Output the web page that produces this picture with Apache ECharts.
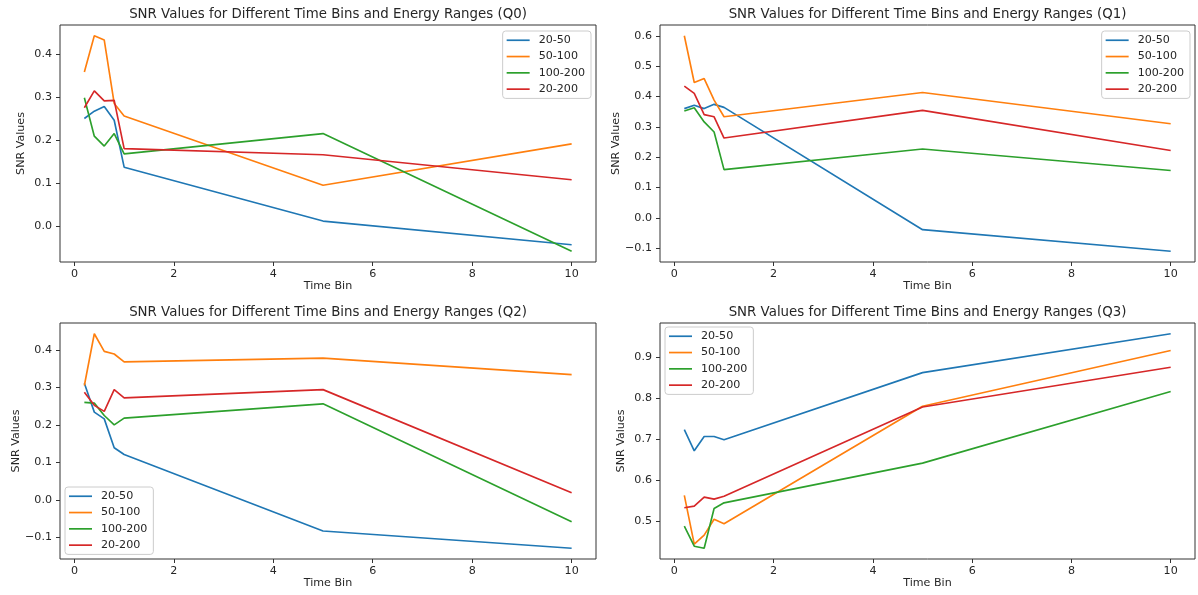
<!DOCTYPE html>
<html>
<head>
<meta charset="utf-8">
<script src="https://cdn.jsdelivr.net/npm/echarts@6/dist/echarts.min.js"></script>
<style>
  html, body { margin: 0; padding: 0; background: #fff; }
  #chart { width: 1198px; height: 595px; }
</style>
</head>
<body>
<div id="chart"></div>
<script>
// Time bins shared by every panel
const timeBins = [0.2, 0.4, 0.6, 0.8, 1.0, 5, 10];
const energyRanges = ['20-50', '50-100', '100-200', '20-200'];
const panelNames = ['Q0', 'Q1', 'Q2', 'Q3'];

// SNR per energy range, one array per panel
const q0_20_50   = [0.250, 0.267, 0.278, 0.246, 0.137, 0.012, -0.043];
const q0_50_100  = [0.358, 0.442, 0.432, 0.285, 0.256, 0.095, 0.191];
const q0_100_200 = [0.298, 0.209, 0.186, 0.215, 0.168, 0.215, -0.058];
const q0_20_200  = [0.275, 0.314, 0.291, 0.292, 0.180, 0.166, 0.108];

const q1_20_50   = [0.360, 0.371, 0.360, 0.374, 0.364, -0.039, -0.110];
const q1_50_100  = [0.600, 0.446, 0.459, 0.388, 0.333, 0.413, 0.310];
const q1_100_200 = [0.352, 0.363, 0.316, 0.283, 0.159, 0.227, 0.156];
const q1_20_200  = [0.434, 0.410, 0.340, 0.333, 0.263, 0.354, 0.222];

const q2_20_50   = [0.311, 0.234, 0.216, 0.139, 0.121, -0.083, -0.129];
const q2_50_100  = [0.305, 0.443, 0.396, 0.389, 0.368, 0.378, 0.334];
const q2_100_200 = [0.260, 0.258, 0.225, 0.200, 0.218, 0.256, -0.058];
const q2_20_200  = [0.287, 0.252, 0.236, 0.294, 0.272, 0.294, 0.019];

const q3_20_50   = [0.724, 0.672, 0.707, 0.707, 0.699, 0.863, 0.958];
const q3_50_100  = [0.563, 0.444, 0.466, 0.505, 0.494, 0.781, 0.917];
const q3_100_200 = [0.488, 0.439, 0.434, 0.531, 0.545, 0.642, 0.817];
const q3_20_200  = [0.533, 0.537, 0.559, 0.554, 0.561, 0.779, 0.876];

// Tick labels
const xTicks = [0, 2, 4, 6, 8, 10];
const q0Ticks = [0.0, 0.1, 0.2, 0.3, 0.4];
const q1Ticks = [-0.1, 0.0, 0.1, 0.2, 0.3, 0.4, 0.5, 0.6];
const q2Ticks = [-0.1, 0.0, 0.1, 0.2, 0.3, 0.4];
const q3Ticks = [0.5, 0.6, 0.7, 0.8, 0.9];

const panelSeries = [
  [q0_20_50, q0_50_100, q0_100_200, q0_20_200],
  [q1_20_50, q1_50_100, q1_100_200, q1_20_200],
  [q2_20_50, q2_50_100, q2_100_200, q2_20_200],
  [q3_20_50, q3_50_100, q3_100_200, q3_20_200]
];
const panelTicks = [q0Ticks, q1Ticks, q2Ticks, q3Ticks];

const colors = ['#1f77b4', '#ff7f0e', '#2ca02c', '#d62728'];
const FONT = 'DejaVu Sans';
const TEXT = '#262626';
const LABEL_SIZE = 11.1;
const TITLE_SIZE = 13.35;

const grids = [
  { left: 60,  top: 25,  width: 536, height: 237 },
  { left: 660, top: 25,  width: 535, height: 237 },
  { left: 60,  top: 323, width: 536, height: 236 },
  { left: 660, top: 323, width: 535, height: 236 }
];

// Legend placement per panel
const legendPos = [
  { right: 607, top: 31 },
  { right: 8,   top: 31 },
  { left: 65,   top: 487 },
  { left: 665,  top: 327 }
];

// 5% padding on both ends, like the usual autoscale
const padMin = e => e.min - 0.05 * (e.max - e.min);
const padMax = e => e.max + 0.05 * (e.max - e.min);

const fmtY = v => (v < -1e-9 ? '\u2212' : '') + Math.abs(v).toFixed(1);

const option = {
  animation: false,
  color: colors,
  textStyle: { fontFamily: FONT },
  title: grids.map((g, i) => ({
    text: 'SNR Values for Different Time Bins and Energy Ranges (' + panelNames[i] + ')',
    left: g.left + g.width / 2,
    top: g.top - 17,
    textAlign: 'center',
    padding: 0,
    textStyle: { fontFamily: FONT, fontSize: TITLE_SIZE, fontWeight: 'normal', color: TEXT }
  })),
  legend: grids.map((g, i) => Object.assign({
    data: energyRanges,
    orient: 'vertical',
    icon: 'rect',
    itemWidth: 23,
    itemHeight: 1.7,
    itemGap: 3.8,
    padding: [3, 6, 3, 4],
    backgroundColor: 'rgba(255,255,255,0.8)',
    borderColor: '#cccccc',
    borderWidth: 1,
    borderRadius: 3,
    selectedMode: false,
    textStyle: { fontFamily: FONT, fontSize: LABEL_SIZE, color: TEXT, lineHeight: 12.5, padding: [0, 0, 0, 4] }
  }, legendPos[i])),
  grid: grids.map(g => Object.assign({
    show: true,
    borderColor: '#333',
    borderWidth: 1,
    containLabel: false
  }, g)),
  xAxis: grids.map((g, i) => ({
    type: 'value',
    gridIndex: i,
    min: padMin,
    max: padMax,
    name: 'Time Bin',
    nameLocation: 'middle',
    nameGap: 19,
    nameTextStyle: { fontFamily: FONT, fontSize: LABEL_SIZE, color: TEXT },
    axisLine: { show: false, onZero: false },
    axisTick: { show: true, length: 4, lineStyle: { color: '#333' }, customValues: xTicks },
    axisLabel: { fontFamily: FONT, fontSize: LABEL_SIZE, color: TEXT, margin: 7, customValues: xTicks,
                 formatter: v => String(v) },
    splitLine: { show: false }
  })),
  yAxis: grids.map((g, i) => ({
    type: 'value',
    gridIndex: i,
    min: padMin,
    max: padMax,
    name: 'SNR Values',
    nameLocation: 'middle',
    nameGap: 33,
    nameTextStyle: { fontFamily: FONT, fontSize: LABEL_SIZE, color: TEXT },
    axisLine: { show: false, onZero: false },
    axisTick: { show: true, length: 4, lineStyle: { color: '#333' }, customValues: panelTicks[i] },
    axisLabel: { fontFamily: FONT, fontSize: LABEL_SIZE, color: TEXT, margin: 8, customValues: panelTicks[i],
                 formatter: fmtY },
    splitLine: { show: false }
  })),
  series: []
};

panelSeries.forEach((group, p) => {
  group.forEach((vals, k) => {
    option.series.push({
      type: 'line',
      name: energyRanges[k],
      xAxisIndex: p,
      yAxisIndex: p,
      data: timeBins.map((t, j) => [t, vals[j]]),
      showSymbol: false,
      symbol: 'none',
      lineStyle: { width: 1.65, color: colors[k] },
      itemStyle: { color: colors[k] }
    });
  });
});

const chart = echarts.init(document.getElementById('chart'), null, { renderer: 'canvas' });
chart.setOption(option);
</script>
</body>
</html>
